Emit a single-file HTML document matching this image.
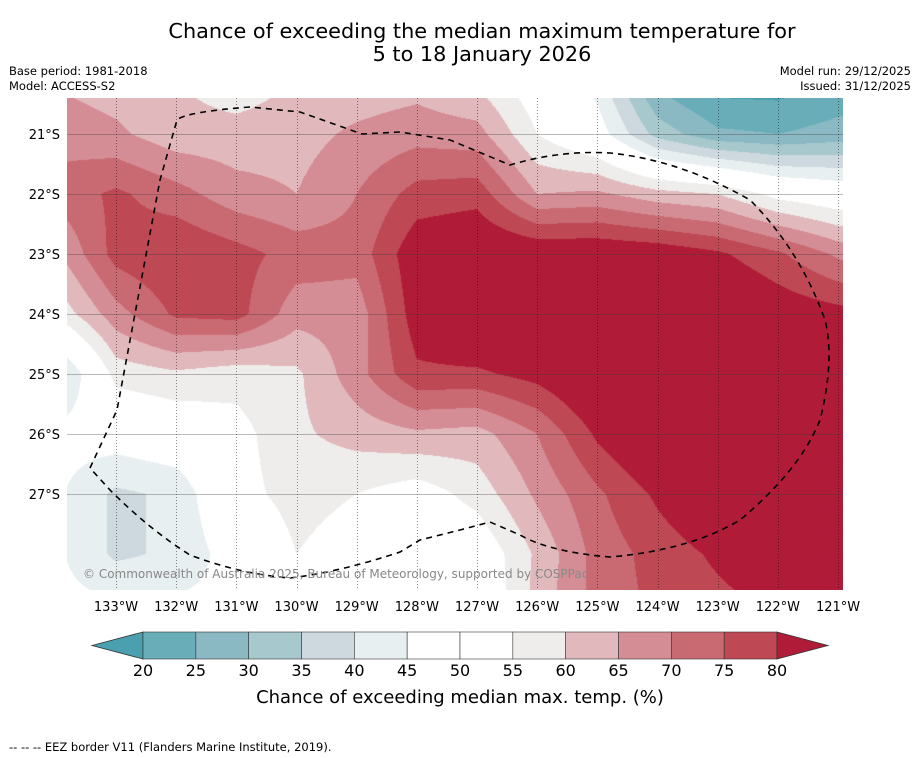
<!DOCTYPE html>
<html><head><meta charset="utf-8"><style>
body{margin:0;background:#fff;width:919px;height:758px;overflow:hidden;font-family:"Liberation Sans","DejaVu Sans",sans-serif;}
</style></head><body>
<svg id="chart" width="919" height="758" xmlns="http://www.w3.org/2000/svg" style="position:absolute;left:0;top:0">
<text x="482" y="38" text-anchor="middle" font-size="20.8" font-family="DejaVu Sans, sans-serif">Chance of exceeding the median maximum temperature for</text>
<text x="482" y="61" text-anchor="middle" font-size="20.8" font-family="DejaVu Sans, sans-serif">5 to 18 January 2026</text>
<text x="9" y="75" font-size="11.5" font-family="DejaVu Sans, sans-serif">Base period: 1981-2018</text>
<text x="9" y="90" font-size="11.5" font-family="DejaVu Sans, sans-serif">Model: ACCESS-S2</text>
<text x="911" y="75" text-anchor="end" font-size="11.5" font-family="DejaVu Sans, sans-serif">Model run: 29/12/2025</text>
<text x="911" y="90" text-anchor="end" font-size="11.5" font-family="DejaVu Sans, sans-serif">Issued: 31/12/2025</text>
<foreignObject x="67" y="98" width="776" height="492"><canvas xmlns="http://www.w3.org/1999/xhtml" id="cv" width="776" height="492"></canvas></foreignObject>
<g id="grid"></g>
<path id="eez" fill="none" stroke="#000" stroke-width="1.6" stroke-dasharray="6,5"
 d="M90,468 L117,410 L160,180 L177,120 Q185,112 250,107 L300,112 L362,134 L400,132 L450,140 L510,165 Q560,150 610,153 Q680,160 750,200 Q800,250 825,320 Q835,360 820,420 Q800,470 740,520 Q690,550 610,557 Q550,552 520,535 L490,522 L460,530 L420,540 L400,552 Q340,572 290,578 Q240,574 190,555 Q150,530 110,490 Z"/>
<text x="83" y="578" font-size="12" fill="#888" font-family="DejaVu Sans, sans-serif">© Commonwealth of Australia 2025, Bureau of Meteorology, supported by COSPPac</text>
<g id="axes"></g>
<g id="colorbar"></g>
<text x="460" y="703" text-anchor="middle" font-size="18" font-family="DejaVu Sans, sans-serif">Chance of exceeding median max. temp. (%)</text>
<text x="9" y="751" font-size="11.5" font-family="DejaVu Sans, sans-serif">--  --  -- EEZ border V11 (Flanders Marine Institute, 2019).</text>
</svg>
<script>
// Data
const lons = [134,133,132,131,130,129,128,127,126,125,124,123,122,121,120];
const lats = [20,21,22,23,24,25,26,27,28,29];
const row20 = [64,62,60,56,60,61,62,58,50,42,22,16,16,20,22];
const row21 = [68,66,62,62,63,66,68,67,55,48,33,26,25,27,28];
const row22 = [72,76,72,67,65,70,77,78,65,66,62,60,53,50,48];
const row23 = [64,77,80,77,73,72,84,86,85,85,84,81,76,69,64];
const row24 = [56,68,76,77,67,67,83,88,88,88,88,88,84,82,80];
const row25 = [36,57,59,57,59,68,79,79,82,88,88,88,88,86,84];
const row26 = [47,48,50,53,59,62,64,63,70,81,88,88,88,86,84];
const row27 = [46,39,41,53,57,55,52,57,66,74,81,87,88,88,86];
const row28 = [46,39,41,48,55,52,49,50,61,72,77,81,85,86,84];
const row29 = [47,47,47,46,55,50,48,48,62,72,76,78,80,82,82];
const field = [row20,row21,row22,row23,row24,row25,row26,row27,row28,row29];
const levels = [20,25,30,35,40,45,50,55,60,65,70,75,80];
const colors = ["#4aa0ae","#69adb9","#8ab9c4","#a7c8cc","#cdd9de","#e8eff1","#ffffff","#ffffff","#eeedeb","#e1b9bd","#d58d95","#c96a73","#bf4855","#b01c37"];
const lonTicks = [133,132,131,130,129,128,127,126,125,124,123,122,121];
const latTicks = [21,22,23,24,25,26,27];

// axis functions
const X0=67,Y0=98,W=776,H=492;
const xOf = lon => 116 + (133-lon)*60.17;
const yOf = lat => 134 + (lat-21)*60;
const lonOf = x => 133 - (x-116)/60.17;
const latOf = y => 21 + (y-134)/60;
function sample(lon,lat){
  let fi = (lons[0]-lon); let fj = (lat-lats[0]);
  fi=Math.max(0,Math.min(lons.length-1.001,fi)); fj=Math.max(0,Math.min(lats.length-1.001,fj));
  const i=Math.floor(fi), j=Math.floor(fj), a=fi-i, b=fj-j;
  return (field[j][i]*(1-a)+field[j][i+1]*a)*(1-b)+(field[j+1][i]*(1-a)+field[j+1][i+1]*a)*b;
}
function hex(c){return [parseInt(c.substr(1,2),16),parseInt(c.substr(3,2),16),parseInt(c.substr(5,2),16)];}
const cv=document.getElementById('cv'),ctx=cv.getContext('2d');
const img=ctx.createImageData(W,H);
const rgb=colors.map(hex);
for(let py=0;py<H;py++){for(let px=0;px<W;px++){
  const v=sample(lonOf(X0+px+0.5),latOf(Y0+py+0.5));
  let k=0;while(k<levels.length&&v>=levels[k])k++;
  const c=rgb[k],o=(py*W+px)*4;img.data[o]=c[0];img.data[o+1]=c[1];img.data[o+2]=c[2];img.data[o+3]=255;
}}
ctx.putImageData(img,0,0);

const NS="http://www.w3.org/2000/svg";
function mk(tag,attrs,parent,txt){const e=document.createElementNS(NS,tag);for(const k in attrs)e.setAttribute(k,attrs[k]);if(txt!==undefined)e.textContent=txt;parent.appendChild(e);return e;}
const grid=document.getElementById('grid'),axes=document.getElementById('axes');
lonTicks.forEach(l=>{
  const x=Math.round(xOf(l))+0.5;
  const ln=mk('line',{x1:x,y1:Y0,x2:x,y2:Y0+H,stroke:'rgba(0,0,0,0.45)','stroke-width':1,'stroke-dasharray':'1,2'},grid);
  
  
  const t=mk('text',{x:xOf(l),y:611,'text-anchor':'middle','font-size':13,'font-family':'DejaVu Sans, sans-serif'},axes,l+'°W');
  
  
});
latTicks.forEach(l=>{
  const y=Math.round(yOf(l))+0.5;
  const ln=mk('line',{x1:X0,y1:y,x2:X0+W,y2:y,stroke:'rgba(60,60,60,0.35)','stroke-width':1},grid);
  
  
  const t=mk('text',{x:60,y:yOf(l)+5,'text-anchor':'end','font-size':13,'font-family':'DejaVu Sans, sans-serif'},axes,l+'°S');
  
  
});
// colorbar
const cb=document.getElementById('colorbar');
const cbL=143,cbR=777,cbT=632,cbB=659;
const cx=v=>cbL+(v-levels[0])*(cbR-cbL)/(levels[levels.length-1]-levels[0]);
const la=mk('polygon',{points:`92,${(cbT+cbB)/2} ${cbL},${cbT} ${cbL},${cbB}`,fill:colors[0],stroke:'#333','stroke-width':0.8},cb);


for(let i=0;i<levels.length-1;i++){
  const r=mk('rect',{x:cx(levels[i]),y:cbT,width:cx(levels[i+1])-cx(levels[i]),height:cbB-cbT,fill:colors[i+1],stroke:'#333','stroke-width':0.6},cb);
  
  
}
const ra=mk('polygon',{points:`${cbR},${cbT} 828,${(cbT+cbB)/2} ${cbR},${cbB}`,fill:colors[colors.length-1],stroke:'#333','stroke-width':0.8},cb);


levels.forEach(v=>{
  const t=mk('text',{x:cx(v),y:676,'text-anchor':'middle','font-size':16,'font-family':'DejaVu Sans, sans-serif'},cb,String(v));
  
  
});
</script>
</body></html>
